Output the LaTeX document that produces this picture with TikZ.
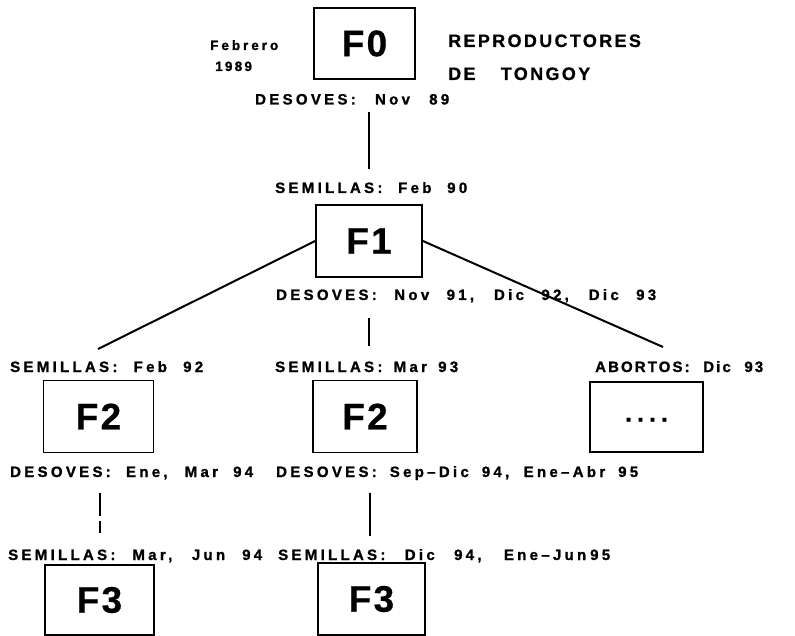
\documentclass[tikz,border=0pt]{standalone}
\usepackage{fontspec}
\usetikzlibrary{positioning,calc}
\setmainfont{Liberation Sans}
\newfontfamily\lblfont{Liberation Sans Bold}[LetterSpace=22, FakeBold=1.2]
\newfontfamily\tightfont{Liberation Sans Bold}[LetterSpace=14, FakeBold=1.2]
\newfontfamily\ttlfont{Liberation Sans Bold}[LetterSpace=13, FakeBold=0.8]
\newfontfamily\boxfont{Liberation Sans Bold}[LetterSpace=6, FakeBold=0.6]
% etiqueta de ancho fijo, espacios estirados
\newcommand\spread[2]{\makebox[#1][s]{#2}}

\begin{document}
\begin{tikzpicture}[x=1pt, y=-1pt,
  gen/.style={rectangle, draw, line width=1.8pt, minimum width=106pt, minimum height=72pt, font=\boxfont\fontsize{37}{40}\selectfont},
  lbl/.style={anchor=base west, inner sep=0pt, font=\lblfont\fontsize{15}{18}\selectfont},
  ttl/.style={anchor=base west, inner sep=0pt, font=\ttlfont\fontsize{18}{21}\selectfont},
  link/.style={line width=2pt}
]
  \useasboundingbox (0,0) rectangle (795,636);
  % generaciones
  \node[gen, minimum width=101pt, minimum height=71pt] (f0) at (364.5,43.5) {F0};
  \node[gen] (f1) at (369,241) {F1};
  \node[gen, minimum width=110pt] (f2a) at (98.5,416.5) {F2};
  \node[gen, minimum width=104pt] (f2b) at (365,416.5) {F2};
  \node[gen, minimum width=113pt, minimum height=70pt, font=\lblfont\fontsize{24}{26}\selectfont] (more) at (646.5,417) {\raisebox{-9pt}{....}};
  \node[gen, minimum width=109pt, minimum height=70pt] (f3a) at (99.5,600) {F3};
  \node[gen, minimum width=107pt] (f3b) at (371.5,599) {F3};
  % textos
  \node[lbl, font=\lblfont\fontsize{13.5}{16}\selectfont] (feb) at (210,50) {Febrero};
  \node[lbl, font=\lblfont\fontsize{13.5}{16}\selectfont] (year) at (215,71) {1\,9\,8\,9};
  \node[ttl] (repro) at (448,47) {REPRODUCTORES};
  \node[ttl] (tongoy) at (448,80) {\spread{142pt}{DE TONGOY}};
  \node[lbl] (des0) at (255,104.5) {\spread{194pt}{DESOVES: Nov 89}};
  \node[lbl] (sem1) at (275,193) {\spread{192pt}{SEMILLAS: Feb 90}};
  \node[lbl] (des1) at (276,300) {\spread{380pt}{DESOVES: Nov 91, Dic 92, Dic 93}};
  \node[lbl] (sem2a) at (10,372) {\spread{193pt}{SEMILLAS: Feb 92}};
  \node[lbl] (sem2b) at (275,372) {\spread{183pt}{SEMILLAS: Mar 93}};
  \node[lbl, font=\tightfont\fontsize{15}{18}\selectfont] (abo) at (595,372) {\spread{168pt}{ABORTOS: Dic 93}};
  \node[lbl] (des2a) at (10,477) {\spread{243pt}{DESOVES: Ene, Mar 94}};
  \node[lbl] (des2b) at (276,477) {\spread{362pt}{DESOVES: Sep–Dic 94, Ene–Abr 95}};
  \node[lbl] (sem3a) at (8,560) {\spread{254pt}{SEMILLAS: Mar, Jun 94}};
  \node[lbl] (sem3b) at (278,560) {\spread{332pt}{SEMILLAS: Dic 94, Ene–Jun\kern4pt 95}};
  % extremos libres de las ramas
  \coordinate (endL) at (98,349);
  \coordinate (endR) at (663,347);
  % conexiones
  \draw[link, shorten <=7pt, shorten >=13pt] (des0.south -| f1) -- (sem1.north -| f1);
  \draw[link] (f1.west) -- (endL);
  \draw[link] (f1.east) -- (endR);
  \draw[link, shorten <=15pt, shorten >=15pt] (des1.south -| f1) -- (sem2b.north -| f1);
  \draw[link, dash pattern=on 23pt off 5pt, shorten <=13pt, shorten >=16pt] (des2a.south -| 100,0) -- (sem3a.north -| 100,0);
  \draw[link, shorten <=13pt, shorten >=13pt] (des2b.south -| 370,0) -- (sem3b.north -| 370,0);
\end{tikzpicture}
\end{document}
